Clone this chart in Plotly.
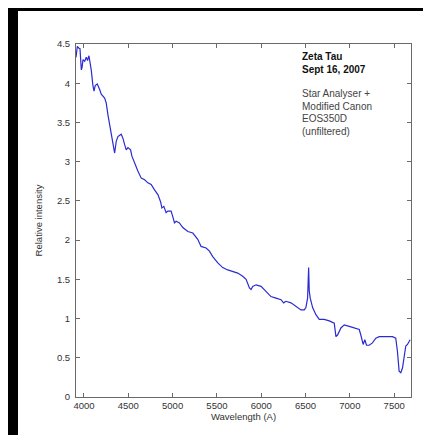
import plotly.graph_objects as go

wavelength = [3910, 3925, 3940, 3955, 3970, 3978, 3989, 4008, 4026, 4040, 4056, 4075, 4082, 4100, 4113, 4127,
              4150, 4177, 4195, 4233, 4251, 4270, 4290, 4308, 4327, 4346, 4364, 4383, 4420,
              4439, 4458, 4477, 4496, 4526, 4541, 4571, 4608, 4646, 4684, 4721, 4758, 4796,
              4834, 4864, 4879, 4901, 4927, 4946, 4983, 5002, 5021, 5040, 5077, 5115, 5172,
              5228, 5284, 5321, 5378, 5416, 5453, 5510, 5566, 5622, 5679, 5735, 5791, 5829,
              5867, 5885, 5904, 5942, 5998, 6054, 6110, 6167, 6223, 6253, 6279, 6336, 6392,
              6448, 6486, 6504, 6523, 6535, 6542, 6553, 6580, 6617, 6655, 6711, 6768, 6824,
              6843, 6861, 6899, 6937, 6993, 7049, 7106, 7124, 7150, 7169, 7188, 7218, 7255,
              7293, 7331, 7406, 7481, 7518, 7537, 7556, 7575, 7594, 7612, 7631, 7650, 7680]
intensity = [4.33, 4.47, 4.45, 4.44, 4.17, 4.20, 4.30, 4.28, 4.33, 4.29, 4.35, 4.24, 4.17, 3.98, 3.90, 3.97,
             3.99, 3.92, 3.86, 3.81, 3.75, 3.60, 3.47, 3.39, 3.26, 3.11, 3.26, 3.32, 3.35,
             3.30, 3.22, 3.15, 3.18, 3.15, 3.07, 2.98, 2.88, 2.79, 2.77, 2.73, 2.71, 2.64,
             2.58, 2.49, 2.41, 2.43, 2.35, 2.37, 2.37, 2.30, 2.22, 2.24, 2.22, 2.16, 2.11,
             2.09, 2.01, 1.92, 1.90, 1.86, 1.79, 1.71, 1.65, 1.62, 1.60, 1.58, 1.54, 1.50,
             1.39, 1.37, 1.41, 1.43, 1.41, 1.35, 1.28, 1.26, 1.24, 1.20, 1.22, 1.20, 1.16,
             1.11, 1.11, 1.14, 1.26, 1.65, 1.35, 1.26, 1.14, 1.05, 0.99, 0.99, 0.97, 0.94,
             0.77, 0.79, 0.88, 0.92, 0.90, 0.88, 0.86, 0.79, 0.67, 0.73, 0.66, 0.66, 0.69,
             0.75, 0.77, 0.77, 0.77, 0.75, 0.58, 0.33, 0.31, 0.37, 0.50, 0.65, 0.67, 0.73]

x_ticks = [4000, 4500, 5000, 5500, 6000, 6500, 7000, 7500]
y_ticks = [0, 0.5, 1, 1.5, 2, 2.5, 3, 3.5, 4, 4.5]
y_tick_text = ["0", "0.5", "1", "1.5", "2", "2.5", "3", "3.5", "4", "4.5"]

title_lines = ["<b>Zeta Tau</b>", "<b>Sept 16, 2007</b>"]
note_lines = ["Star Analyser +", "Modified Canon", "EOS350D", "(unfiltered)"]

FONT = "Liberation Sans, Arial, sans-serif"
L, R, T, B = 68, 28, 36, 46
W, H = 431, 435
pw, ph = W - L - R, H - T - B

def px_x(p):
    return (p - L) / pw

def px_y(p):
    return (H - B - p) / ph

fig = go.Figure()
fig.add_trace(go.Scatter(x=wavelength, y=intensity, mode="lines",
                         line=dict(color="#2b2bd0", width=1.2), showlegend=False))

axis_common = dict(showline=True, linecolor="#6a6a6a", linewidth=1, mirror="ticks",
                   ticks="inside", ticklen=4, tickcolor="#6a6a6a", showgrid=False,
                   zeroline=False, tickfont=dict(family=FONT, size=9.5, color="#333"))
fig.update_xaxes(range=[3910, 7690], tickvals=x_ticks, **axis_common,
                 title=dict(text="Wavelength (A)", font=dict(family=FONT, size=9.5, color="#333"),
                            standoff=1))
fig.update_yaxes(range=[0, 4.5], tickvals=y_ticks, ticktext=y_tick_text, **axis_common,
                 ticklabelstandoff=3,
                 title=dict(text="Relative intensity", font=dict(family=FONT, size=9.5, color="#333"),
                            standoff=12))

ys = [48, 61]
for txt, yy in zip(title_lines, ys):
    fig.add_annotation(text=txt, xref="paper", yref="paper", x=px_x(292), y=px_y(yy),
                       xanchor="left", yanchor="middle", showarrow=False,
                       font=dict(family=FONT, size=10, color="#111"))
ys2 = [85, 98, 110, 123]
for txt, yy in zip(note_lines, ys2):
    fig.add_annotation(text=txt, xref="paper", yref="paper", x=px_x(292), y=px_y(yy),
                       xanchor="left", yanchor="middle", showarrow=False,
                       font=dict(family=FONT, size=10, color="#444"))

# black frame strips at left and top of the image
fig.add_shape(type="rect", xref="paper", yref="paper", x0=px_x(0), x1=px_x(10),
              y0=px_y(H), y1=px_y(0), fillcolor="black", line_width=0, layer="above")
fig.add_shape(type="rect", xref="paper", yref="paper", x0=px_x(0), x1=px_x(W),
              y0=px_y(3), y1=px_y(0), fillcolor="black", line_width=0, layer="above")

fig.update_layout(width=W, height=H, margin=dict(l=L, r=R, t=T, b=B, autoexpand=False),
                  paper_bgcolor="white", plot_bgcolor="white")
fig.write_html("out.html")
